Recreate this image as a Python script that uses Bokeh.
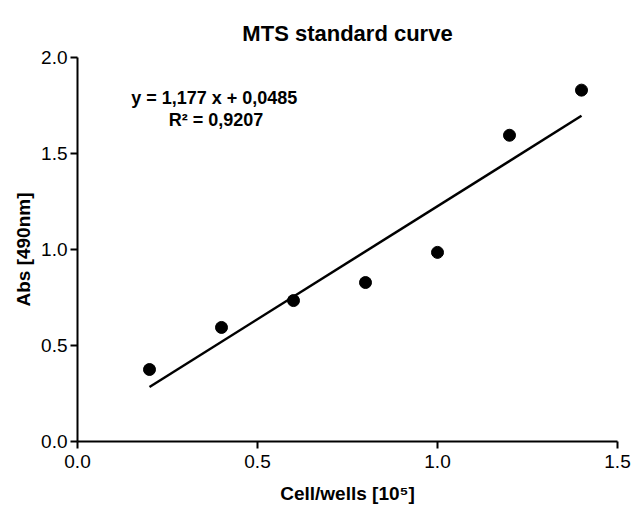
from bokeh.plotting import figure
from bokeh.models import Range1d, Label, FixedTicker, PrintfTickFormatter
from bokeh.embed import file_html
from bokeh.resources import INLINE

# data
cells = [0.2, 0.4, 0.6, 0.8, 1.0, 1.2, 1.4]
absorb = [0.375, 0.594, 0.734, 0.828, 0.985, 1.595, 1.830]
slope = 1.177
intercept = 0.0485
r2 = 0.9207
x_ticks = [0.0, 0.5, 1.0, 1.5]
y_ticks = [0.0, 0.5, 1.0, 1.5, 2.0]

FONT = "Liberation Sans"

p = figure(width=632, height=506, output_backend="svg", toolbar_location=None,
           x_range=Range1d(0, 1.5), y_range=Range1d(0, 2.0),
           min_border_left=77, min_border_right=15, min_border_top=57, min_border_bottom=65,
           title="MTS standard curve")
p.title.align = "center"
p.title.text_font = FONT
p.title.text_font_size = "22px"
p.title.text_font_style = "bold"
p.title.text_color = "black"
p.title.standoff = 23

p.outline_line_color = None
p.grid.visible = False

for ax, ticks in ((p.xaxis, x_ticks), (p.yaxis, y_ticks)):
    ax.ticker = FixedTicker(ticks=ticks)
    ax.formatter = PrintfTickFormatter(format="%.1f")
    ax.axis_line_width = 2
    ax.axis_line_color = "black"
    ax.major_tick_line_width = 2
    ax.major_tick_line_color = "black"
    ax.major_tick_out = 7
    ax.major_tick_in = 0
    ax.minor_tick_line_color = None
    ax.major_label_text_font = FONT
    ax.major_label_text_font_size = "19px"
    ax.major_label_text_color = "black"
    ax.axis_label_text_font = FONT
    ax.axis_label_text_font_size = "19px"
    ax.axis_label_text_font_style = "bold"
    ax.axis_label_text_color = "black"

p.xaxis.major_label_standoff = 6
p.yaxis.major_label_standoff = 3
p.xaxis.axis_label = "Cell/wells [10\u2075]"
p.yaxis.axis_label = "Abs [490nm]"
p.yaxis.axis_label_standoff = 4
p.xaxis.axis_label_standoff = 12

fit_x = [min(cells), max(cells)]
fit_y = [slope * x + intercept for x in fit_x]
p.line(fit_x, fit_y, line_color="black", line_width=2.5)
p.scatter(cells, absorb, size=12, marker="circle", fill_color="black", line_color="black")

eq = "y = %s x + %s" % (str(slope).replace(".", ","), str(intercept).replace(".", ","))
p.add_layout(Label(x=0.38, y=1.79, text=eq, text_align="center", text_baseline="middle",
                   text_font=FONT, text_font_size="18px", text_font_style="bold", text_color="black"))
p.add_layout(Label(x=0.385, y=1.675, text="R\u00b2 = " + str(r2).replace(".", ","),
                   text_align="center", text_baseline="middle",
                   text_font=FONT, text_font_size="18px", text_font_style="bold", text_color="black"))

open("out.html", "w").write(file_html(p, INLINE))
